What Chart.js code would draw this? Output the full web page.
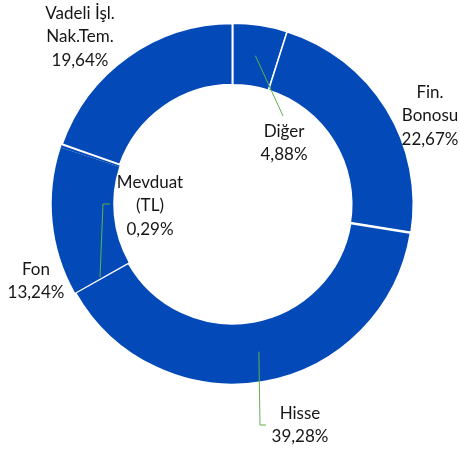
<!DOCTYPE html>
<html>
<head>
<meta charset="utf-8">
<script src="https://cdn.jsdelivr.net/npm/chart.js@4"></script>
<style>
    html, body { margin: 0; padding: 0; background: #fff; }
    #wrap { width: 460px; height: 453px; position: relative; }
</style>
</head>
<body>
<div id="wrap"><canvas id="pieChart"></canvas></div>
<script>
// slices, clockwise from 12 o'clock
const categories = ["Diğer", "Fin. Bonosu", "Hisse", "Fon", "Mevduat (TL)", "Vadeli İşl. Nak.Tem."];
const values = [4.88, 22.67, 39.28, 13.24, 0.29, 19.64];
const labelLines = [
    ["Diğer", "4,88%"],
    ["Fin.", "Bonosu", "22,67%"],
    ["Hisse", "39,28%"],
    ["Fon", "13,24%"],
    ["Mevduat", "(TL)", "0,29%"],
    ["Vadeli İşl.", "Nak.Tem.", "19,64%"]
];

// label block centres, offset from the doughnut centre (px)
const labelOffsets = [[51.5, -61], [197.5, -88], [67.5, 221], [-196.5, 77], [-82.5, 2], [-152.5, -167]];
// leader lines: "arc" = middle of the slice's ring, others are offsets from centre
const leaders = {
    0: ["arc", [50.5, -88]],
    2: ["arc", [27.5, 221], [33.5, 221]],
    4: [[-132.5, 73], [-129.5, 0], [-122.5, 0]]
};

const blue = "#0349B8";
// Fon + Mevduat drawn without border so the tiny slice melts in,
// Vadeli's own edge gives the single white cut
const sliceBorders = [1.5, 1.5, 2.5, 0, 0, 2];

const labelPlugin = {
    id: "sliceLabels",
    afterDraw(chart) {
        const ctx = chart.ctx;
        const meta = chart.getDatasetMeta(0);
        const first = meta.data[0];
        const cx = first.x, cy = first.y;
        ctx.save();
        // leader lines
        ctx.strokeStyle = "#5CB24A";
        ctx.lineWidth = 1;
        Object.keys(leaders).forEach(function (k) {
            const arc = meta.data[k];
            ctx.beginPath();
            leaders[k].forEach(function (p, i) {
                let x, y;
                if (p === "arc") {
                    const a = (arc.startAngle + arc.endAngle) / 2;
                    const r = (arc.innerRadius + arc.outerRadius) / 2;
                    x = cx + Math.cos(a) * r;
                    y = cy + Math.sin(a) * r;
                } else {
                    x = cx + p[0];
                    y = cy + p[1];
                }
                if (i === 0) ctx.moveTo(x, y); else ctx.lineTo(x, y);
            });
            ctx.stroke();
        });
        // texts
        ctx.fillStyle = "#161616";
        ctx.font = "17px Lato";
        ctx.textAlign = "center";
        ctx.textBaseline = "middle";
        const lh = 23.5;
        labelLines.forEach(function (lines, i) {
            const x = cx + labelOffsets[i][0];
            const y0 = cy + labelOffsets[i][1] - (lines.length - 1) * lh / 2;
            lines.forEach(function (t, j) {
                ctx.fillText(t, x, y0 + j * lh);
            });
        });
        ctx.restore();
    }
};

var ctx_pie = document.getElementById("pieChart");
var pieChart = new Chart(ctx_pie, {
    type: "doughnut",
    data: {
        labels: categories,
        datasets: [
            {
                data: values,
                backgroundColor: blue,
                borderColor: "#ffffff",
                borderWidth: sliceBorders,
            },
        ],
    },
    options: {
        responsive: true,
        maintainAspectRatio: false,
        animation: false,
        cutout: "66%",
        layout: {
            padding: { top: 22, bottom: 67, left: 50, right: 45 },
        },
        plugins: {
            legend: { display: false },
            tooltip: { enabled: false },
        },
    },
    plugins: [labelPlugin],
});
</script>
</body>
</html>
